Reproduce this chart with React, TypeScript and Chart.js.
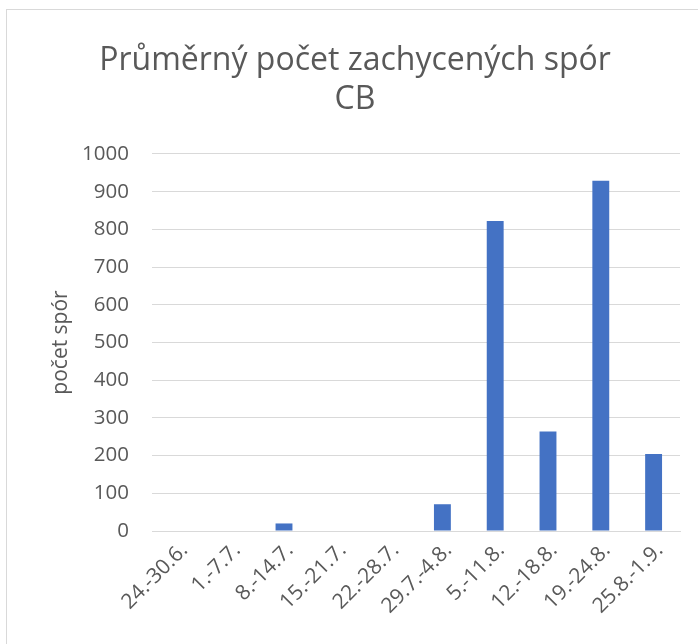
import { useEffect, useRef } from 'react';
import { Chart, registerables } from 'chart.js';

Chart.register(...registerables);

const categories = ['24.-30.6.', '1.-7.7.', '8.-14.7.', '15.-21.7.', '22.-28.7.', '29.7.-4.8.', '5.-11.8.', '12.-18.8.', '19.-24.8.', '25.8.-1.9.'];
const values = [0, 0, 20, 0, 0, 71, 822, 264, 929, 204];
const titleLines = ['Průměrný počet zachycených spór', 'CB'];
const yAxisTitle = 'počet spór';
const yMin = 0;
const yMax = 1000;
const yStep = 100;

const FONT = '"Open Sans", "Noto Sans", sans-serif';
const TEXT = '#595959';
const GRID = '#d9d9d9';

export default function App() {
  const ref = useRef<HTMLCanvasElement | null>(null);
  useEffect(() => {
    if (!ref.current) return;
    const chart = new Chart(ref.current, {
      type: 'bar',
      data: {
        labels: categories,
        datasets: [
          {
            data: values,
            backgroundColor: '#4472C4',
            borderWidth: 0,
            barPercentage: 0.32,
            categoryPercentage: 1,
          },
        ],
      },
      options: {
        responsive: false,
        animation: false,
        devicePixelRatio: 1,
        layout: { padding: { left: 23, right: 18, top: 0, bottom: 0 } },
        plugins: {
          legend: { display: false },
          tooltip: { enabled: false },
          title: {
            display: true,
            text: titleLines,
            color: TEXT,
            font: { family: FONT, size: 32, weight: 'normal', lineHeight: 1.22 },
            padding: { top: 31, bottom: 34.9 },
          },
        },
        scales: {
          x: {
            grid: { display: false, drawTicks: false },
            border: { display: true, color: GRID, width: 1 },
            ticks: {
              color: TEXT,
              font: { family: FONT, size: 21 },
              minRotation: 45,
              maxRotation: 45,
              autoSkip: false,
              padding: 7,
              labelOffset: 6,
            },
            afterFit: (scale: any) => {
              scale.height = 113;
            },
          },
          y: {
            min: yMin,
            max: yMax,
            grid: { color: GRID, lineWidth: 1, drawTicks: false },
            border: { display: false },
            ticks: {
              stepSize: yStep,
              color: TEXT,
              font: { family: FONT, size: 20.5 },
              padding: 23,
              callback: (v: any) => String(v),
            },
            title: {
              display: true,
              text: yAxisTitle,
              color: TEXT,
              font: { family: FONT, size: 21 },
              padding: { top: 18, bottom: 0 },
            },
            afterFit: (scale: any) => {
              scale.width = 122;
            },
          },
        },
      },
    });
    return () => chart.destroy();
  }, []);

  return (
    <div style={{ position: 'absolute', left: 0, top: 0, width: 698, height: 644, overflow: 'hidden', background: '#fff' }}>
      <div
        style={{
          position: 'absolute',
          left: 6,
          top: 9,
          width: 720,
          height: 660,
          borderLeft: `1px solid ${GRID}`,
          borderTop: `1px solid ${GRID}`,
        }}
      />
      <canvas ref={ref} width={691} height={634} style={{ position: 'absolute', left: 7, top: 10 }} />
    </div>
  );
}
